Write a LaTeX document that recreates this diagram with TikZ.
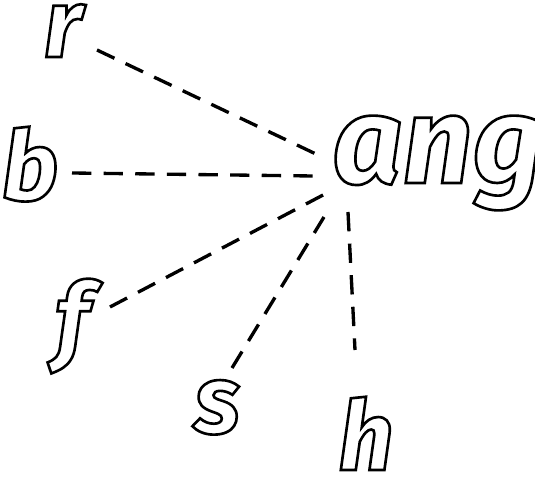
\documentclass[tikz,border=0pt]{standalone}
\usepackage{fontspec}
\newfontfamily\handfont{Fira Sans}
\newcommand{\hollow}[1]{\special{pdf:literal direct 1 Tr 1.5 w}#1\special{pdf:literal direct 0 Tr}}
\tikzset{
  letter/.style={anchor=base,inner sep=0pt,font=\handfont\bfseries\itshape\fontsize{55}{60}\selectfont},
  bigletter/.style={letter,font=\handfont\bfseries\itshape\fontsize{70}{76}\selectfont},
  link/.style={line width=1.9pt,dash pattern=on 11pt off 7pt}
}

\begin{document}
\begin{tikzpicture}[x=0.02cm,y=0.02cm]
  \useasboundingbox (0,0) rectangle (535,477);
  \node[bigletter] (ang) at (438,294) {\hollow{ang}};

  \node[letter] (r) at (63,420) {\hollow{r}};
  \coordinate (r-in) at (318,322);
  \draw[link] (97,427) coordinate (r-out) -- (r-in);

  \node[letter] (b) at (30,277) {\hollow{b}};
  \coordinate (b-in) at (313,301);
  \draw[link] (72,304) coordinate (b-out) -- (b-in);

  \node[letter] (f) at (72,125) {\hollow{f}};
  \coordinate (f-in) at (325,283);
  \draw[link] (110,170) coordinate (f-out) -- (f-in);

  \node[letter] (s) at (217,44) {\hollow{s}};
  \coordinate (s-in) at (324,260);
  \draw[link] (232,109) coordinate (s-out) -- (s-in);

  \node[letter] (h) at (366,7) {\hollow{h}};
  \coordinate (h-in) at (348,265);
  \draw[link] (h-in) -- (355,127) coordinate (h-out);
\end{tikzpicture}
\end{document}
